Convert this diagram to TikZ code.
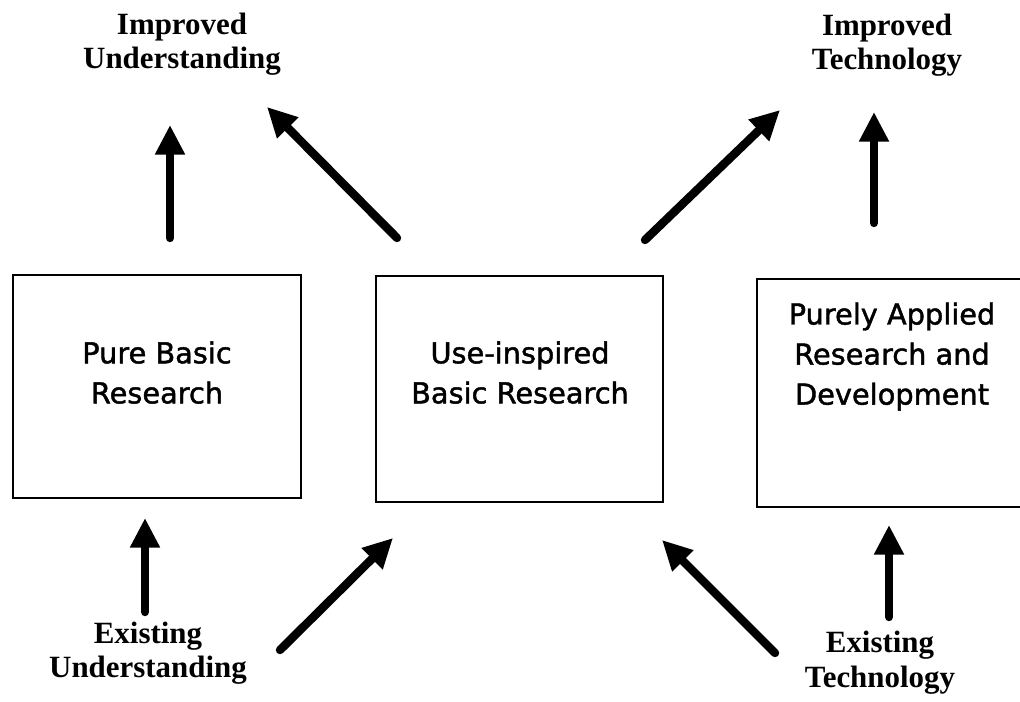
\documentclass[tikz,border=0pt]{standalone}
\usepackage{fontspec}
\setmainfont{Liberation Serif}
\newfontfamily\boxfont[FakeBold=1.5]{DejaVu Sans}
\usetikzlibrary{arrows.meta}
\tikzset{%
  bigarrow/.style = {-{Triangle[length=21pt,width=20pt]},line width=6pt,
        line cap=round},
  box/.style = {rectangle,draw,line width=1.8pt,inner sep=0pt},
  boxtext/.style = {align=center,font=\boxfont\fontsize{20.5}{28.5}\selectfont},
  lbl/.style = {align=center,font=\bfseries\fontsize{22}{24.5}\selectfont}
}
\begin{document}
\begin{tikzpicture}
                    \useasboundingbox (0,0) rectangle (25.5,17.525);
                    % the three boxes
                    \node[box,minimum width=7.2cm,minimum height=5.575cm] (pbr) at (3.925,7.8625) {};
                    \node[box,minimum width=7.175cm,minimum height=5.65cm] (uibr) at (12.99,7.8) {};
                    \node[box,minimum width=6.675cm,minimum height=5.7cm] (par) at (22.26,7.7) {};
                    \node[boxtext] (pbrt) at (3.925,8.21) {Pure Basic\\Research};
                    \node[boxtext] (uibrt) at (13.0,8.21) {Use-inspired\\Basic Research};
                    \node[boxtext] (part) at (22.3,8.61) {Purely Applied\\Research and\\Development};

                    % labels
                    \node[lbl] (iu) at (4.55,16.42) {Improved\\Understanding};
                    \node[lbl] (it) at (22.175,16.39) {Improved\\Technology};
                    \node[lbl] (eu) at (3.7,1.19) {Existing\\Understanding};
                    \node[lbl] (et) at (22.0,0.96) {Existing\\Technology};

                    % arrow ends
                    \coordinate (a1) at (4.25,11.575);   \coordinate (b1) at (4.25,14.4);
                    \coordinate (a2) at (9.925,11.575);  \coordinate (b2) at (6.675,14.85);
                    \coordinate (a3) at (16.125,11.525); \coordinate (b3) at (19.5,14.775);
                    \coordinate (a4) at (21.85,11.95);   \coordinate (b4) at (21.85,14.725);
                    \coordinate (c1) at (3.625,2.225);   \coordinate (d1) at (3.625,4.575);
                    \coordinate (c2) at (7.0,1.275);     \coordinate (d2) at (9.825,4.075);
                    \coordinate (c3) at (19.375,1.2);    \coordinate (d3) at (16.55,4.025);
                    \coordinate (c4) at (22.225,2.1);    \coordinate (d4) at (22.225,4.4);

                    \draw[bigarrow] (a1) -- (b1);
                    \draw[bigarrow] (a2) -- (b2);
                    \draw[bigarrow] (a3) -- (b3);
                    \draw[bigarrow] (a4) -- (b4);

                    \draw[bigarrow] (c1) -- (d1);
                    \draw[bigarrow] (c2) -- (d2);
                    \draw[bigarrow] (c3) -- (d3);
                    \draw[bigarrow] (c4) -- (d4);
                 \end{tikzpicture}
\end{document}
